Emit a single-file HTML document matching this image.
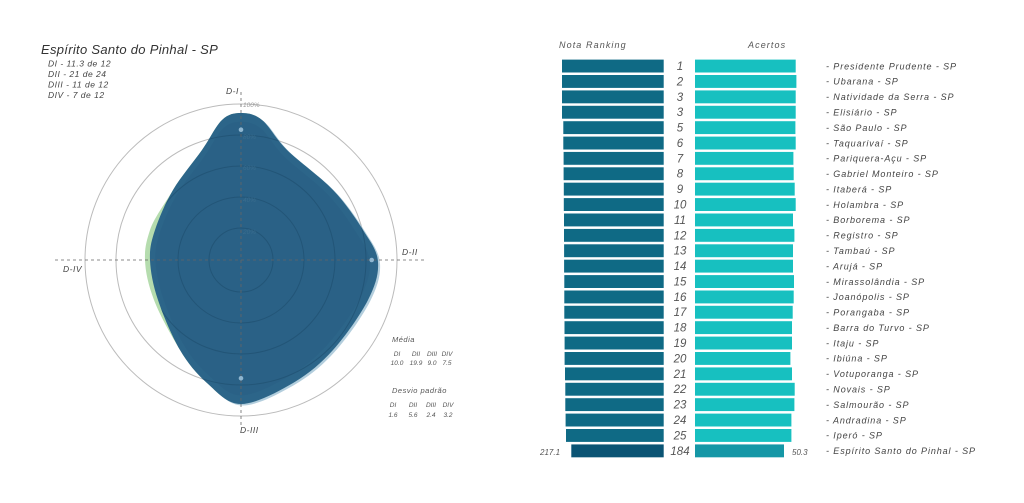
<!DOCTYPE html>
<html><head><meta charset="utf-8">
<style>
html,body{margin:0;padding:0;background:#fff;}
svg{display:block;}
text{font-family:"Liberation Sans",sans-serif;font-style:italic;}
</style></head>
<body>
<svg width="1024" height="503" viewBox="0 0 1024 503" xmlns="http://www.w3.org/2000/svg">
<defs>
<path id="blob" d="M241,113 C247.67,113 254.33,113.83 262,120 C269.67,126.17 275.17,138.33 287,150 C298.83,161.67 320.33,176.67 333,190 C345.67,203.33 355.5,218 363,230 C370.5,242 377.17,250.33 378,262 C378.83,273.67 375.5,285.33 368,300 C360.5,314.67 345.5,336.17 333,350 C320.5,363.83 308.33,374 293,383 C277.67,392 255.33,404 241,404 C226.67,404 217.17,392 207,383 C196.83,374 188.17,363.83 180,350 C171.83,336.17 163,315 158,300 C153,285 150.5,271.67 150,260 C149.5,248.33 151.17,241.67 155,230 C158.83,218.33 165.17,203.33 173,190 C180.83,176.67 193.83,161.67 202,150 C210.17,138.33 215.5,126.17 222,120 C228.5,113.83 234.33,113 241,113 Z"/>
<clipPath id="blobclip"><use href="#blob"/></clipPath>
</defs>
<rect width="1024" height="503" fill="#fff"/>
<!-- Title -->
<text x="41" y="54" font-size="13" fill="#333" letter-spacing="0.3">Espírito Santo do Pinhal - SP</text>
<g font-size="8.5" fill="#444" letter-spacing="0.5">
<text x="48" y="66.5">DI - 11.3 de 12</text>
<text x="48" y="77">DII - 21 de 24</text>
<text x="48" y="87.5">DIII - 11 de 12</text>
<text x="48" y="98">DIV - 7 de 12</text>
</g>
<!-- radar grid outer -->
<g fill="none" stroke="#bbbbbb" stroke-width="1">
<circle cx="241" cy="260" r="156"/>
<circle cx="241" cy="260" r="125"/>
</g>
<!-- green shape -->
<path d="M241,113 C247.67,113 254.33,113.83 262,120 C269.67,126.17 275.17,138.33 287,150 C298.83,161.67 320.33,176.67 333,190 C345.67,203.33 355.5,218 363,230 C370.5,242 377.17,250.33 378,262 C378.83,273.67 375.5,285.33 368,300 C360.5,314.67 345.5,336.17 333,350 C320.5,363.83 308.33,374 293,383 C277.67,392 255.33,404 241,404 C226.67,404 217.17,392 207,383 C196.83,374 188.17,363.83 180,350 C171.83,336.17 160,316 154,300 C148,284 145.5,272 145,260 C144.5,248 146.5,241 150,230 C154,218 165.17,203.33 173,190 C180.83,176.67 193.83,161.67 202,150 C210.17,138.33 215.5,126.17 222,120 C228.5,113.83 234.33,113 241,113 Z" fill="#b5dcae"/>
<!-- light blue outer edge -->
<use href="#blob" transform="translate(2,1.5)" fill="#93b9cf" opacity="0.7"/>
<!-- main blue -->
<use href="#blob" fill="#2c6589"/>
<!-- inner slightly darker overlap -->
<use href="#blob" transform="translate(241,260) scale(0.94) translate(-241,-260)" fill="#275d80" opacity="0.35"/>
<!-- inner grid circles over shape -->
<g fill="none" stroke="#1f4e6e" stroke-width="1" opacity="0.6" clip-path="url(#blobclip)">
<circle cx="241" cy="260" r="125"/>
<circle cx="241" cy="260" r="94"/>
<circle cx="241" cy="260" r="63"/>
<circle cx="241" cy="260" r="32"/>
</g>
<!-- axes -->
<g stroke="#666" stroke-width="0.8" stroke-dasharray="3,3" fill="none">
<line x1="241" y1="92" x2="241" y2="425"/>
<line x1="55" y1="260" x2="425" y2="260"/>
</g>
<g font-size="6.5" font-style="normal" fill="#999">
<text x="243" y="107">100%</text>
<text x="243" y="139" fill="#3a6d8e">80%</text>
<text x="243" y="170" fill="#3a6d8e">60%</text>
<text x="243" y="202" fill="#3a6d8e">40%</text>
<text x="243" y="234" fill="#3a6d8e">20%</text>
</g>
<!-- data points -->
<g fill="#8fb6d0">
<circle cx="241" cy="129.7" r="2.3"/>
<circle cx="371.7" cy="260" r="2.3"/>
<circle cx="241" cy="378.3" r="2.3"/>
</g>
<g font-size="8.5" fill="#444" letter-spacing="0.5">
<text x="226" y="94">D-I</text>
<text x="402" y="255">D-II</text>
<text x="240" y="433">D-III</text>
<text x="63" y="272">D-IV</text>
</g>
<!-- stats -->
<g font-size="7.5" fill="#555" letter-spacing="0.5">
<text x="392" y="342">Média</text>
<text x="392" y="393">Desvio padrão</text>
</g>
<g font-size="6.5" fill="#555" text-anchor="middle">
<text x="397" y="356">DI</text><text x="416" y="356">DII</text><text x="432" y="356">DIII</text><text x="447" y="356">DIV</text>
<text x="397" y="365">10.0</text><text x="416" y="365">19.9</text><text x="432" y="365">9.0</text><text x="447" y="365">7.5</text>
<text x="393" y="407">DI</text><text x="413" y="407">DII</text><text x="431" y="407">DIII</text><text x="448" y="407">DIV</text>
<text x="393" y="417">1.6</text><text x="413" y="417">5.6</text><text x="431" y="417">2.4</text><text x="448" y="417">3.2</text>
</g>
<!-- bars header -->
<g font-size="9" fill="#555" letter-spacing="1.1">
<text x="559" y="48">Nota Ranking</text>
<text x="748" y="48">Acertos</text>
</g>
<!-- bars -->
<g stroke="#ffffff" stroke-width="0.6">
<rect x="561.7" y="59.3" width="102.3" height="13.5" fill="#0f6a85"/>
<rect x="561.7" y="74.7" width="102.3" height="13.5" fill="#0f6a85"/>
<rect x="561.7" y="90.1" width="102.3" height="13.5" fill="#0f6a85"/>
<rect x="561.7" y="105.5" width="102.3" height="13.5" fill="#0f6a85"/>
<rect x="563" y="120.9" width="101" height="13.5" fill="#0f6a85"/>
<rect x="563" y="136.3" width="101" height="13.5" fill="#0f6a85"/>
<rect x="563.3" y="151.6" width="100.7" height="13.5" fill="#0f6a85"/>
<rect x="563.3" y="167.0" width="100.7" height="13.5" fill="#0f6a85"/>
<rect x="563.5" y="182.4" width="100.5" height="13.5" fill="#0f6a85"/>
<rect x="563.5" y="197.8" width="100.5" height="13.5" fill="#0f6a85"/>
<rect x="563.7" y="213.2" width="100.3" height="13.5" fill="#0f6a85"/>
<rect x="563.7" y="228.6" width="100.3" height="13.5" fill="#0f6a85"/>
<rect x="563.8" y="244.0" width="100.2" height="13.5" fill="#0f6a85"/>
<rect x="563.8" y="259.4" width="100.2" height="13.5" fill="#0f6a85"/>
<rect x="564" y="274.8" width="100" height="13.5" fill="#0f6a85"/>
<rect x="564" y="290.2" width="100" height="13.5" fill="#0f6a85"/>
<rect x="564" y="305.5" width="100" height="13.5" fill="#0f6a85"/>
<rect x="564.2" y="320.9" width="99.8" height="13.5" fill="#0f6a85"/>
<rect x="564.3" y="336.3" width="99.7" height="13.5" fill="#0f6a85"/>
<rect x="564.3" y="351.7" width="99.7" height="13.5" fill="#0f6a85"/>
<rect x="564.7" y="367.1" width="99.3" height="13.5" fill="#0f6a85"/>
<rect x="565" y="382.5" width="99" height="13.5" fill="#0f6a85"/>
<rect x="565" y="397.9" width="99" height="13.5" fill="#0f6a85"/>
<rect x="565.3" y="413.3" width="98.7" height="13.5" fill="#0f6a85"/>
<rect x="565.7" y="428.7" width="98.3" height="13.5" fill="#0f6a85"/>
<rect x="571" y="444.1" width="93" height="13.5" fill="#0b5474"/>

<rect x="694.7" y="59.3" width="101.3" height="13.5" fill="#17c0c0"/>
<rect x="694.7" y="74.7" width="102" height="13.5" fill="#17c0c0"/>
<rect x="694.7" y="90.1" width="101.3" height="13.5" fill="#17c0c0"/>
<rect x="694.7" y="105.5" width="101.3" height="13.5" fill="#17c0c0"/>
<rect x="694.7" y="120.9" width="101" height="13.5" fill="#17c0c0"/>
<rect x="694.7" y="136.3" width="101.3" height="13.5" fill="#17c0c0"/>
<rect x="694.7" y="151.6" width="99" height="13.5" fill="#17c0c0"/>
<rect x="694.7" y="167.0" width="99.3" height="13.5" fill="#17c0c0"/>
<rect x="694.7" y="182.4" width="100.3" height="13.5" fill="#17c0c0"/>
<rect x="694.7" y="197.8" width="101.3" height="13.5" fill="#17c0c0"/>
<rect x="694.7" y="213.2" width="98.6" height="13.5" fill="#17c0c0"/>
<rect x="694.7" y="228.6" width="100" height="13.5" fill="#17c0c0"/>
<rect x="694.7" y="244.0" width="98.6" height="13.5" fill="#17c0c0"/>
<rect x="694.7" y="259.4" width="98.6" height="13.5" fill="#17c0c0"/>
<rect x="694.7" y="274.8" width="99.6" height="13.5" fill="#17c0c0"/>
<rect x="694.7" y="290.2" width="99.3" height="13.5" fill="#17c0c0"/>
<rect x="694.7" y="305.5" width="98.3" height="13.5" fill="#17c0c0"/>
<rect x="694.7" y="320.9" width="97.6" height="13.5" fill="#17c0c0"/>
<rect x="694.7" y="336.3" width="97.6" height="13.5" fill="#17c0c0"/>
<rect x="694.7" y="351.7" width="96" height="13.5" fill="#17c0c0"/>
<rect x="694.7" y="367.1" width="97.6" height="13.5" fill="#17c0c0"/>
<rect x="694.7" y="382.5" width="100.3" height="13.5" fill="#17c0c0"/>
<rect x="694.7" y="397.9" width="100" height="13.5" fill="#17c0c0"/>
<rect x="694.7" y="413.3" width="97" height="13.5" fill="#17c0c0"/>
<rect x="694.7" y="428.7" width="97" height="13.5" fill="#17c0c0"/>
<rect x="694.7" y="444.1" width="89.6" height="13.5" fill="#1597a6"/>
</g>
<!-- rank numbers -->
<g font-size="11.5" fill="#555" text-anchor="middle" font-style="normal">
<text x="680" y="70">1</text>
<text x="680" y="85.4">2</text>
<text x="680" y="100.8">3</text>
<text x="680" y="116.2">3</text>
<text x="680" y="131.6">5</text>
<text x="680" y="147">6</text>
<text x="680" y="162.3">7</text>
<text x="680" y="177.7">8</text>
<text x="680" y="193.1">9</text>
<text x="680" y="208.5">10</text>
<text x="680" y="223.9">11</text>
<text x="680" y="239.3">12</text>
<text x="680" y="254.7">13</text>
<text x="680" y="270.1">14</text>
<text x="680" y="285.5">15</text>
<text x="680" y="300.9">16</text>
<text x="680" y="316.2">17</text>
<text x="680" y="331.6">18</text>
<text x="680" y="347">19</text>
<text x="680" y="362.4">20</text>
<text x="680" y="377.8">21</text>
<text x="680" y="393.2">22</text>
<text x="680" y="408.6">23</text>
<text x="680" y="424">24</text>
<text x="680" y="439.4">25</text>
<text x="680" y="454.8">184</text>
</g>
<g font-size="8" fill="#555">
<text x="540" y="455">217.1</text>
<text x="792" y="455">50.3</text>
</g>
<!-- names -->
<g font-size="9" fill="#444" letter-spacing="0.9">
<text x="826" y="69.3">- Presidente Prudente - SP</text>
<text x="826" y="84.7">- Ubarana - SP</text>
<text x="826" y="100.1">- Natividade da Serra - SP</text>
<text x="826" y="115.5">- Elisiário - SP</text>
<text x="826" y="130.9">- São Paulo - SP</text>
<text x="826" y="146.3">- Taquarivaí - SP</text>
<text x="826" y="161.6">- Pariquera-Açu - SP</text>
<text x="826" y="177">- Gabriel Monteiro - SP</text>
<text x="826" y="192.4">- Itaberá - SP</text>
<text x="826" y="207.8">- Holambra - SP</text>
<text x="826" y="223.2">- Borborema - SP</text>
<text x="826" y="238.6">- Registro - SP</text>
<text x="826" y="254">- Tambaú - SP</text>
<text x="826" y="269.4">- Arujá - SP</text>
<text x="826" y="284.8">- Mirassolândia - SP</text>
<text x="826" y="300.2">- Joanópolis - SP</text>
<text x="826" y="315.5">- Porangaba - SP</text>
<text x="826" y="330.9">- Barra do Turvo - SP</text>
<text x="826" y="346.3">- Itaju - SP</text>
<text x="826" y="361.7">- Ibiúna - SP</text>
<text x="826" y="377.1">- Votuporanga - SP</text>
<text x="826" y="392.5">- Novais - SP</text>
<text x="826" y="407.9">- Salmourão - SP</text>
<text x="826" y="423.3">- Andradina - SP</text>
<text x="826" y="438.7">- Iperó - SP</text>
<text x="826" y="454.1">- Espírito Santo do Pinhal - SP</text>
</g>
</svg>
</body></html>
